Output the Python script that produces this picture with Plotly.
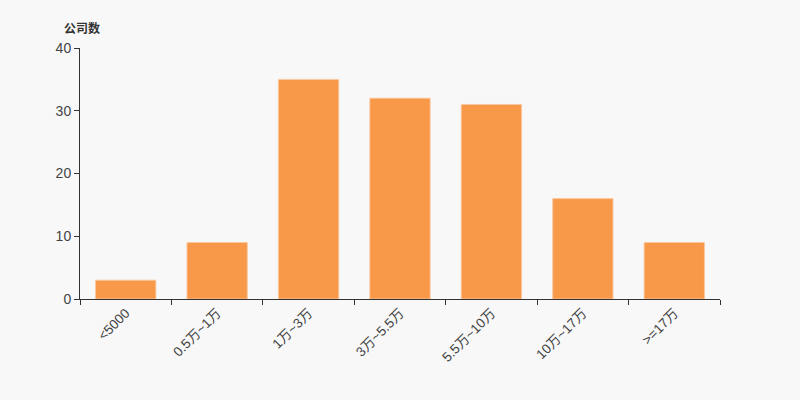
import plotly.graph_objects as go

categories = ["<5000", "0.5万~1万", "1万~3万", "3万~5.5万", "5.5万~10万", "10万~17万", ">=17万"]
values = [3, 9, 35, 32, 31, 16, 9]
y_ticks = [0, 10, 20, 30, 40]

font_family = "Liberation Sans, Noto Sans CJK SC, sans-serif"

fig = go.Figure(go.Bar(
    x=categories, y=values,
    marker=dict(color="#f8994a", line=dict(width=1, color="rgba(252,200,160,0.9)")),
    width=0.66,
))

fig.update_layout(
    width=800, height=400,
    margin=dict(l=80, r=80, t=48, b=101),
    paper_bgcolor="#f8f8f8", plot_bgcolor="#f8f8f8",
    showlegend=False,
    font=dict(family=font_family, color="#444444", size=14),
    annotations=[dict(
        text="<b>公司数</b>", xref="paper", yref="paper",
        x=(62 - 80) / 640, y=(400 - 27 - 101) / 251,
        showarrow=False, font=dict(size=12, color="#333333", family="Noto Sans CJK SC"),
        xanchor="left", yanchor="middle",
    )],
)

fig.update_xaxes(
    type="category",
    showline=True, linecolor="#333333", linewidth=1,
    ticks="outside", ticklen=5, tickcolor="#333333", tickson="boundaries",
    tickangle=-45, tickfont=dict(size=13.5, color="#444444"),
    showgrid=False, zeroline=False, range=[-0.5, 6.5],
)
fig.update_yaxes(
    range=[0, 40], tickvals=y_ticks,
    showline=True, linecolor="#333333", linewidth=1,
    ticks="outside", ticklen=5, tickcolor="#333333",
    tickfont=dict(size=14, color="#444444"),
    showgrid=False, zeroline=False,
)

fig.write_html(
    "out.html",
    config={"displayModeBar": False},
    post_script="document.body.style.margin='0';document.body.style.background='#f8f8f8';",
)
